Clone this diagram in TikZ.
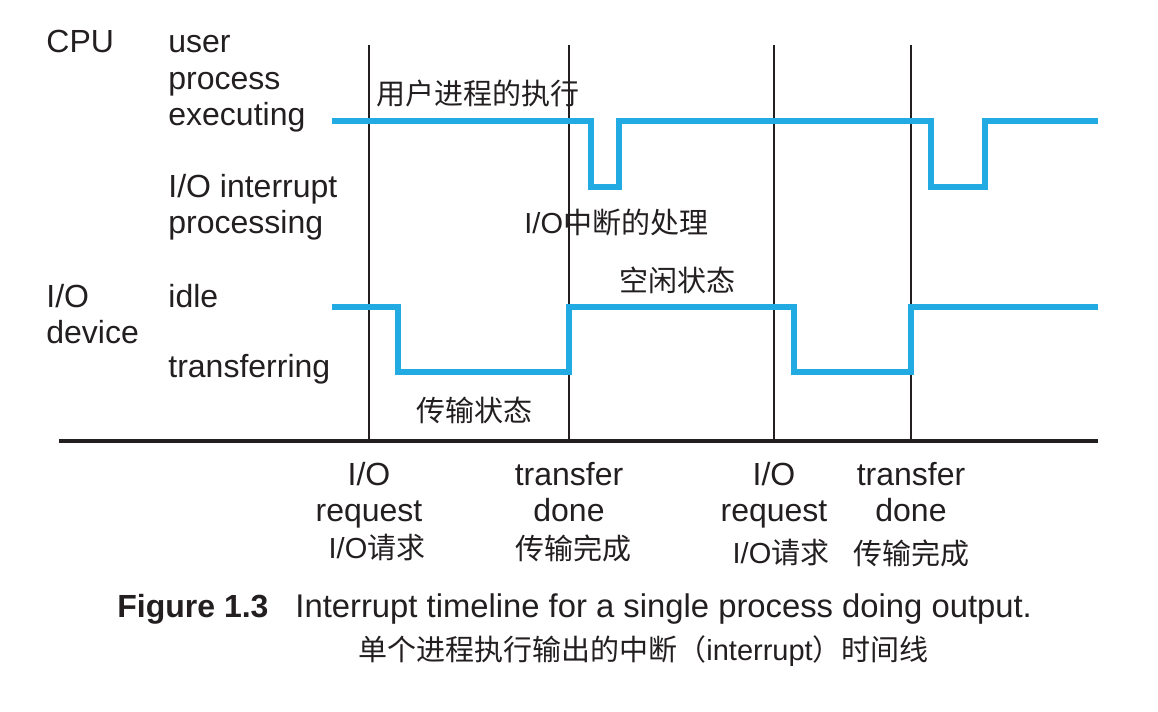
\documentclass[tikz,border=0pt]{standalone}
\usepackage{fontspec}
\setmainfont{Liberation Sans}
\newfontfamily\cjk{Noto Sans CJK SC}
\newcommand{\lat}[1]{{\fontspec{Liberation Sans}#1}}
\definecolor{wave}{RGB}{34,170,226}
\definecolor{ink}{RGB}{35,31,32}
\begin{document}
\begin{tikzpicture}[x=0.5pt,y=-0.5pt,
  lab/.style={font=\fontsize{16}{18}\selectfont, text=ink, inner sep=0pt, anchor=base west},
  labc/.style={font=\fontsize{16}{18}\selectfont, text=ink, inner sep=0pt, anchor=base},
  zh/.style={font=\cjk\fontsize{14.5}{16}\selectfont, text=ink, inner sep=0pt, anchor=west},
  zhc/.style={font=\cjk\fontsize{14.5}{16}\selectfont, text=ink, inner sep=0pt, anchor=center},
  wavel/.style={draw=wave, line width=3.3pt, line join=miter},
  tick/.style={draw=ink, line width=1pt},
  axis/.style={draw=ink, line width=2.3pt}]
\useasboundingbox (0,0) rectangle (1158,712);
\fill[white] (0,0) rectangle (1158,712);
% event markers
\foreach \n/\x in {a/369,b/569,c/774,d/911}{
  \coordinate (\n top) at (\x,45);
  \coordinate (\n bot) at (\x,441);
  \draw[tick] (\n top) -- (\n bot);
}
\coordinate (axL) at (59,441);
\coordinate (axR) at (1098,441);
\draw[axis] (axL) -- (axR);
% CPU waveform
\draw[wavel] (332,121) -- (591,121) -- (591,187) -- (619,187) -- (619,121)
  -- (931,121) -- (931,187) -- (985,187) -- (985,121) -- (1098,121);
% I/O device waveform
\draw[wavel] (332,307) -- (398,307) -- (398,372) -- (569,372) -- (569,307)
  -- (794,307) -- (794,372) -- (911,372) -- (911,307) -- (1098,307);
% left labels
\node[lab] (cpu) at (46,53) {CPU};
\node[lab] (user) at (168,53) {user};
\node[lab] (proc) at (168,89) {process};
\node[lab] (exec) at (168,125) {executing};
\node[lab] (intr) at (168,197) {I/O interrupt};
\node[lab] (iproc) at (168,233) {processing};
\node[lab] (io) at (46,307) {I/O};
\node[lab] (dev) at (46,343) {device};
\node[lab] (idle) at (168,307) {idle};
\node[lab] (xfer) at (168,377) {transferring};
% chinese labels in plot
\node[zh] (zh1) at (376,93) {用户进程的执行};
\node[zh] (zh2) at (524,222) {\lat{I/O}中断的处理};
\node[zh] (zh3) at (619,280) {空闲状态};
\node[zh] (zh4) at (416,410) {传输状态};
% bottom labels
\node[labc] (r1a) at (369,485) {I/O};
\node[labc] (r1b) at (369,521) {request};
\node[zhc] (r1c) at (377,548) {\lat{I/O}请求};
\node[labc] (d1a) at (569,485) {transfer};
\node[labc] (d1b) at (569,521) {done};
\node[zhc] (d1c) at (573,548) {传输完成};
\node[labc] (r2a) at (774,485) {I/O};
\node[labc] (r2b) at (774,521) {request};
\node[zhc] (r2c) at (781,553) {\lat{I/O}请求};
\node[labc] (d2a) at (911,485) {transfer};
\node[labc] (d2b) at (911,521) {done};
\node[zhc] (d2c) at (911,553) {传输完成};
% caption
\node[lab, font=\bfseries\fontsize{16}{18}\selectfont] (fig) at (117,617) {Figure 1.3};
\node[lab, font=\fontsize{16.4}{18}\selectfont] (cap) at (295,617) {Interrupt timeline for a single process doing output.};
\node[zh] (capzh) at (358,651) {单个进程执行输出的中断（\lat{interrupt}）时间线};
\end{tikzpicture}
\end{document}
